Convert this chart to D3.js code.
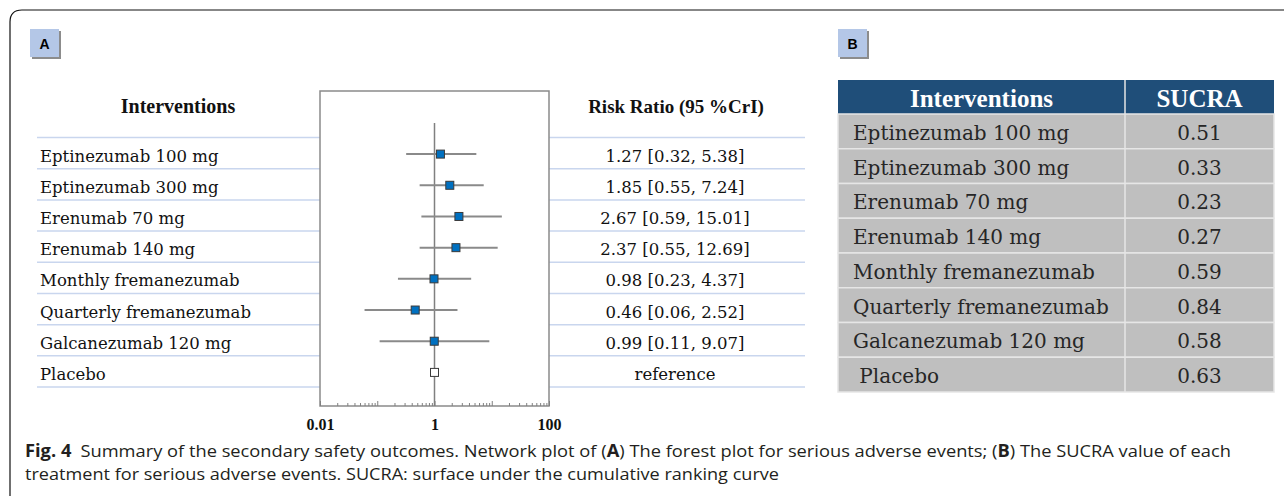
<!DOCTYPE html>
<html>
<head>
<meta charset="utf-8">
<script src="https://cdn.jsdelivr.net/npm/d3@7"></script>
<style>
  body { margin: 0; background: #fff; }
  svg { display: block; }
</style>
</head>
<body>
<script>
// data
const interventions = [
  'Eptinezumab 100 mg',
  'Eptinezumab 300 mg',
  'Erenumab 70 mg',
  'Erenumab 140 mg',
  'Monthly fremanezumab',
  'Quarterly fremanezumab',
  'Galcanezumab 120 mg',
  'Placebo',
];
const riskRatio = [1.27, 1.85, 2.67, 2.37, 0.98, 0.46, 0.99, 1];
const lowerCrI = [0.32, 0.55, 0.59, 0.55, 0.23, 0.06, 0.11, null];
const upperCrI = [5.38, 7.24, 15.01, 12.69, 4.37, 2.52, 9.07, null];
const rrLabels = [
  '1.27 [0.32, 5.38]',
  '1.85 [0.55, 7.24]',
  '2.67 [0.59, 15.01]',
  '2.37 [0.55, 12.69]',
  '0.98 [0.23, 4.37]',
  '0.46 [0.06, 2.52]',
  '0.99 [0.11, 9.07]',
  'reference',
];
const sucraNames = [
  'Eptinezumab 100 mg',
  'Eptinezumab 300 mg',
  'Erenumab 70 mg',
  'Erenumab 140 mg',
  'Monthly fremanezumab',
  'Quarterly fremanezumab',
  'Galcanezumab 120 mg',
  '\u00a0Placebo',
];
const sucra = ['0.51', '0.33', '0.23', '0.27', '0.59', '0.84', '0.58', '0.63'];
const axisLabels = [0.01, 1, 100];

const w = 1284;
const h = 496;
const serif = '"DejaVu Serif", serif';
const serifBold = '"Liberation Serif", serif';

const svg = d3.select('body').append('svg').attr('width', w).attr('height', h);

// outer frame
svg
  .append('path')
  .attr('d', `M10,${h} V22 Q10,10 22,10 H${w}`)
  .attr('fill', 'none')
  .attr('stroke', '#111')
  .attr('stroke-width', 1.2);

// panel labels
function panelLabel(x, y, t) {
  svg.append('rect').attr('x', x + 2).attr('y', y + 2).attr('width', 29).attr('height', 28).attr('fill', '#8c8c8c');
  svg.append('rect').attr('x', x).attr('y', y).attr('width', 29).attr('height', 28).attr('fill', '#b4c7e7');
  svg
    .append('text')
    .attr('x', x + 14.5)
    .attr('y', y + 19.5)
    .attr('text-anchor', 'middle')
    .style('font-family', '"Liberation Sans", Arial, sans-serif')
    .style('font-weight', 'bold')
    .style('font-size', '14px')
    .text(t);
}
panelLabel(30, 29, 'A');
panelLabel(838, 29, 'B');

// ---------- panel A: forest plot ----------
const box = { x0: 320, x1: 549, y0: 91, y1: 406 };

const x = d3.scaleLog().domain([0.01, 100]).range([box.x0, box.x1]);
const y = d3.scaleBand().domain(interventions).range([137.5, 387]);

// row separators
const seps = [137.5].concat(interventions.map((d) => y(d) + y.bandwidth()));
seps.forEach((s) => {
  svg.append('line').attr('x1', 37).attr('x2', box.x0).attr('y1', s).attr('y2', s)
    .attr('stroke', '#c9d6ee').attr('stroke-width', 1.5);
  svg.append('line').attr('x1', box.x1).attr('x2', 805).attr('y1', s).attr('y2', s)
    .attr('stroke', '#c9d6ee').attr('stroke-width', 1.5);
});

// headers
svg.append('text').attr('x', 178).attr('y', 113).attr('text-anchor', 'middle')
  .style('font-family', serifBold).style('font-weight', 'bold').style('font-size', '20px')
  .attr('fill', '#111').text('Interventions');
svg.append('text').attr('x', 676).attr('y', 113).attr('text-anchor', 'middle')
  .style('font-family', serifBold).style('font-weight', 'bold').style('font-size', '19px')
  .attr('fill', '#111').text('Risk Ratio (95 %CrI)');

// row labels and values
const rows = svg.selectAll('g.row').data(interventions).enter().append('g').attr('class', 'row');
rows.append('text')
  .attr('x', 40)
  .attr('y', (d) => y(d) + y.bandwidth() / 2 + 8.5)
  .style('font-family', serif).style('font-size', '16.5px').attr('fill', '#111')
  .text((d) => d);
rows.append('text')
  .attr('x', 675)
  .attr('y', (d) => y(d) + y.bandwidth() / 2 + 8.5)
  .attr('text-anchor', 'middle')
  .style('font-family', serif).style('font-size', '16.5px').attr('fill', '#111')
  .text((d, i) => rrLabels[i]);

// plot box
svg.append('rect')
  .attr('x', box.x0).attr('y', box.y0)
  .attr('width', box.x1 - box.x0).attr('height', box.y1 - box.y0)
  .attr('fill', '#fff').attr('stroke', '#8a8a8a').attr('stroke-width', 1.5);

// line of no effect
svg.append('line').attr('x1', x(1)).attr('x2', x(1)).attr('y1', 123).attr('y2', box.y1)
  .attr('stroke', '#808080').attr('stroke-width', 1.5);

// axis
const axis = d3.axisBottom(x)
  .tickValues(x.ticks())
  .tickSize(-3)
  .tickPadding(13)
  .tickFormat((d) => (axisLabels.some((v) => Math.abs(v - d) < 1e-9) ? d3.format('~g')(d) : ''));
const gx = svg.append('g').attr('transform', `translate(0,${box.y1})`).call(axis);
gx.select('.domain').remove();
gx.selectAll('.tick line')
  .attr('stroke', '#808080')
  .attr('y2', (d) => (Math.abs(Math.log10(d) - Math.round(Math.log10(d))) < 1e-9 ? -5 : -3));
gx.selectAll('.tick text')
  .style('font-family', serifBold).style('font-weight', 'bold').style('font-size', '16px')
  .attr('fill', '#111');

// CrI whiskers
const pts = interventions.map((d, i) => ({ name: d, rr: riskRatio[i], lo: lowerCrI[i], hi: upperCrI[i] }));
svg.selectAll('line.cri').data(pts.filter((d) => d.lo !== null)).enter().append('line')
  .attr('class', 'cri')
  .attr('x1', (d) => x(d.lo)).attr('x2', (d) => x(d.hi))
  .attr('y1', (d) => y(d.name) + y.bandwidth() / 2 + 1)
  .attr('y2', (d) => y(d.name) + y.bandwidth() / 2 + 1)
  .attr('stroke', '#8a8a8a').attr('stroke-width', 2);

svg.selectAll('rect.pt').data(pts).enter().append('rect')
  .attr('class', 'pt')
  .attr('x', (d) => x(d.rr) - 4).attr('y', (d) => y(d.name) + y.bandwidth() / 2 + 1 - 4)
  .attr('width', 8).attr('height', 8)
  .attr('fill', (d) => (d.lo === null ? '#fff' : '#0070c0'))
  .attr('stroke', '#3a3a3a').attr('stroke-width', 1);

// ---------- panel B: SUCRA table ----------
const tb = { x0: 838, x1: 1274, xm: 1125, y0: 80, yh: 114, y1: 392 };
const ty = d3.scaleBand().domain(sucraNames).range([tb.yh, tb.y1]);

svg.append('rect').attr('x', tb.x0).attr('y', tb.y0).attr('width', tb.x1 - tb.x0).attr('height', tb.yh - tb.y0)
  .attr('fill', '#1f4e79');
svg.append('text').attr('x', (tb.x0 + tb.xm) / 2).attr('y', 106.5).attr('text-anchor', 'middle')
  .style('font-family', serifBold).style('font-weight', 'bold').style('font-size', '25px')
  .attr('fill', '#fff').text('Interventions');
svg.append('text').attr('x', (tb.xm + tb.x1) / 2).attr('y', 106.5).attr('text-anchor', 'middle')
  .style('font-family', serifBold).style('font-weight', 'bold').style('font-size', '25px')
  .attr('fill', '#fff').text('SUCRA');

const trows = svg.selectAll('g.trow').data(sucraNames).enter().append('g').attr('class', 'trow');
trows.append('rect')
  .attr('x', tb.x0).attr('y', (d) => ty(d))
  .attr('width', tb.x1 - tb.x0).attr('height', ty.bandwidth())
  .attr('fill', '#bfbfbf').attr('stroke', '#e6e6e6').attr('stroke-width', 1.5);
trows.append('text')
  .attr('x', 853).attr('y', (d) => ty(d) + ty.bandwidth() / 2 + 8.5)
  .style('font-family', serif).style('font-size', '20px').attr('fill', '#262626')
  .style('white-space', 'pre')
  .text((d) => d);
trows.append('text')
  .attr('x', (tb.xm + tb.x1) / 2).attr('y', (d) => ty(d) + ty.bandwidth() / 2 + 8.5)
  .attr('text-anchor', 'middle')
  .style('font-family', serif).style('font-size', '20px').attr('fill', '#262626')
  .text((d, i) => sucra[i]);
svg.append('line').attr('x1', tb.xm).attr('x2', tb.xm).attr('y1', tb.y0).attr('y2', tb.y1)
  .attr('stroke', '#e6e6e6').attr('stroke-width', 1.5);

// ---------- caption ----------
const capFont = '"Open Sans", "Noto Sans", sans-serif';
const cap1 = svg.append('text').attr('x', 25).attr('y', 457)
  .style('font-family', capFont).style('font-size', '17px').attr('fill', '#231f20')
  .attr('textLength', 1206).attr('lengthAdjust', 'spacingAndGlyphs');
cap1.append('tspan').style('font-weight', 'bold').text('Fig. 4');
cap1.append('tspan').text('\u2002Summary of the secondary safety outcomes. Network plot of (');
cap1.append('tspan').style('font-weight', 'bold').text('A');
cap1.append('tspan').text(') The forest plot for serious adverse events; (');
cap1.append('tspan').style('font-weight', 'bold').text('B');
cap1.append('tspan').text(') The SUCRA value of each');

svg.append('text').attr('x', 25).attr('y', 480)
  .style('font-family', capFont).style('font-size', '17px').attr('fill', '#231f20')
  .attr('textLength', 754).attr('lengthAdjust', 'spacingAndGlyphs')
  .text('treatment for serious adverse events. SUCRA: surface under the cumulative ranking curve');
</script>
</body>
</html>
